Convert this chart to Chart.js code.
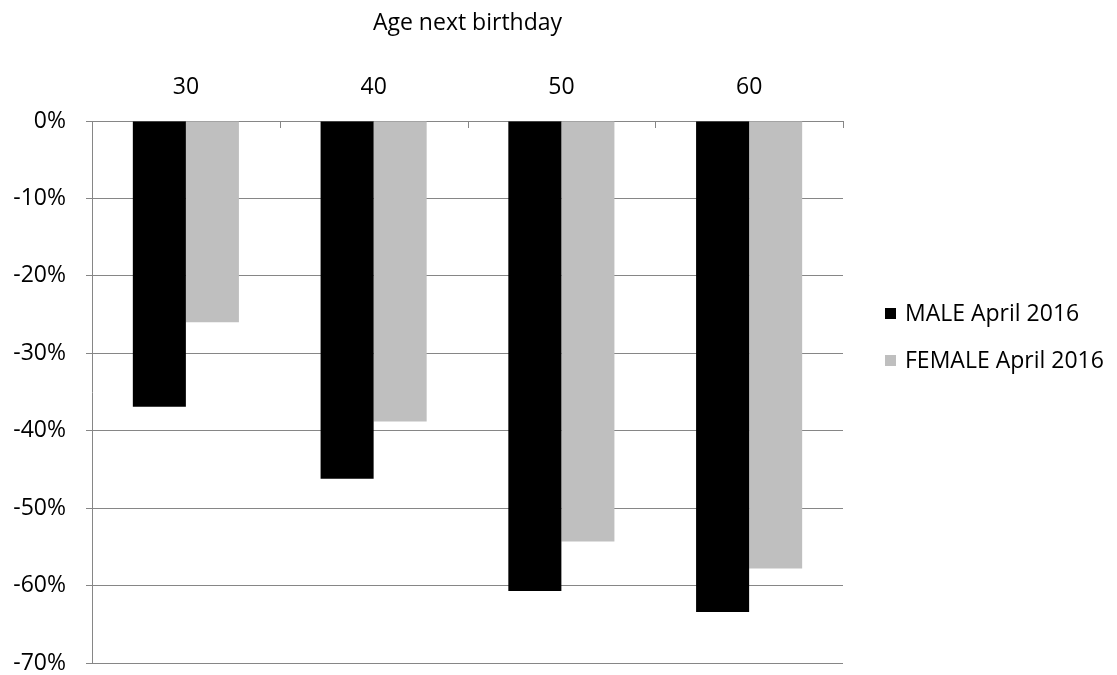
<!DOCTYPE html>
<html>
<head>
<meta charset="utf-8">
<script src="https://cdn.jsdelivr.net/npm/chart.js@4/dist/chart.umd.min.js"></script>
<style>
html,body{margin:0;padding:0;background:#fff;}
#wrap{width:1117px;height:675px;position:relative;}
</style>
</head>
<body>
<div id="wrap"><canvas id="c" width="1117" height="675"></canvas></div>
<script>
const categories = ["30", "40", "50", "60"];
const maleValues = [-36.9, -46.2, -60.7, -63.4];
const femaleValues = [-26.0, -38.8, -54.3, -57.8];
const seriesLabels = ["MALE April 2016", "FEMALE April 2016"];
const seriesColors = ["#000000", "#bfbfbf"];
const axisTitle = "Age next birthday";
const yMin = -70, yMax = 0, yStep = 10;

const FONT = "'Open Sans', sans-serif";
const FSIZE = 23;
const gridColor = "#868686";

const innerTicks = {
  id: 'innerTicks',
  afterDatasetsDraw(chart) {
    const ctx = chart.ctx, xs = chart.scales.x, area = chart.chartArea;
    const n = categories.length;
    const w = (area.right - area.left) / n;
    ctx.save();
    ctx.strokeStyle = gridColor;
    ctx.lineWidth = 1;
    for (let i = 0; i < n; i++) {
      const x = Math.round(xs.getPixelForValue(i) + w / 2) + 0.5;
      ctx.beginPath();
      ctx.moveTo(x, area.top);
      ctx.lineTo(x, area.top + 7);
      ctx.stroke();
    }
    ctx.restore();
  }
};

const customLegend = {
  id: 'customLegend',
  afterDraw(chart) {
    const ctx = chart.ctx;
    ctx.save();
    ctx.font = FSIZE + "px " + FONT;
    ctx.textBaseline = 'middle';
    chart.data.datasets.forEach((ds, i) => {
      const y = 314 + i * 47;
      ctx.fillStyle = ds.backgroundColor;
      ctx.fillRect(885, y - 6, 11, 11);
      ctx.fillStyle = '#000';
      ctx.fillText(ds.label, 905, y);
    });
    ctx.restore();
  }
};

new Chart(document.getElementById('c'), {
  type: 'bar',
  data: {
    labels: categories,
    datasets: [
      { label: seriesLabels[0], data: maleValues, backgroundColor: seriesColors[0], borderWidth: 0 },
      { label: seriesLabels[1], data: femaleValues, backgroundColor: seriesColors[1], borderWidth: 0 }
    ]
  },
  options: {
    responsive: false,
    animation: false,
    devicePixelRatio: 1,
    layout: { padding: { left: 0, right: 274, top: 0, bottom: 12 } },
    datasets: { bar: { categoryPercentage: 0.565, barPercentage: 1.0 } },
    plugins: {
      legend: { display: false },
      tooltip: { enabled: false },
      title: { display: false }
    },
    scales: {
      x: {
        position: 'top',
        grid: { display: false, drawOnChartArea: false },
        border: { display: true, color: gridColor, width: 1 },
        ticks: { color: '#000', font: { family: FONT, size: FSIZE }, padding: 12 },
        title: { display: true, text: axisTitle, color: '#000', font: { family: FONT, size: FSIZE }, padding: { top: 10, bottom: 8 } },
        afterFit(scale) { scale.height = 121; scale.paddingLeft = 0; scale.paddingRight = 0; }
      },
      y: {
        min: yMin, max: yMax,
        ticks: { stepSize: yStep, color: '#000', font: { family: FONT, size: FSIZE }, padding: 20,
          callback: v => v + '%' },
        grid: { color: gridColor, lineWidth: 1, drawTicks: true, tickLength: 6, tickColor: gridColor },
        border: { display: true, color: gridColor, width: 1 },
        afterFit(scale) { scale.width = 92; scale.paddingTop = 0; scale.paddingBottom = 0; }
      }
    }
  },
  plugins: [innerTicks, customLegend]
});
</script>
</body>
</html>
